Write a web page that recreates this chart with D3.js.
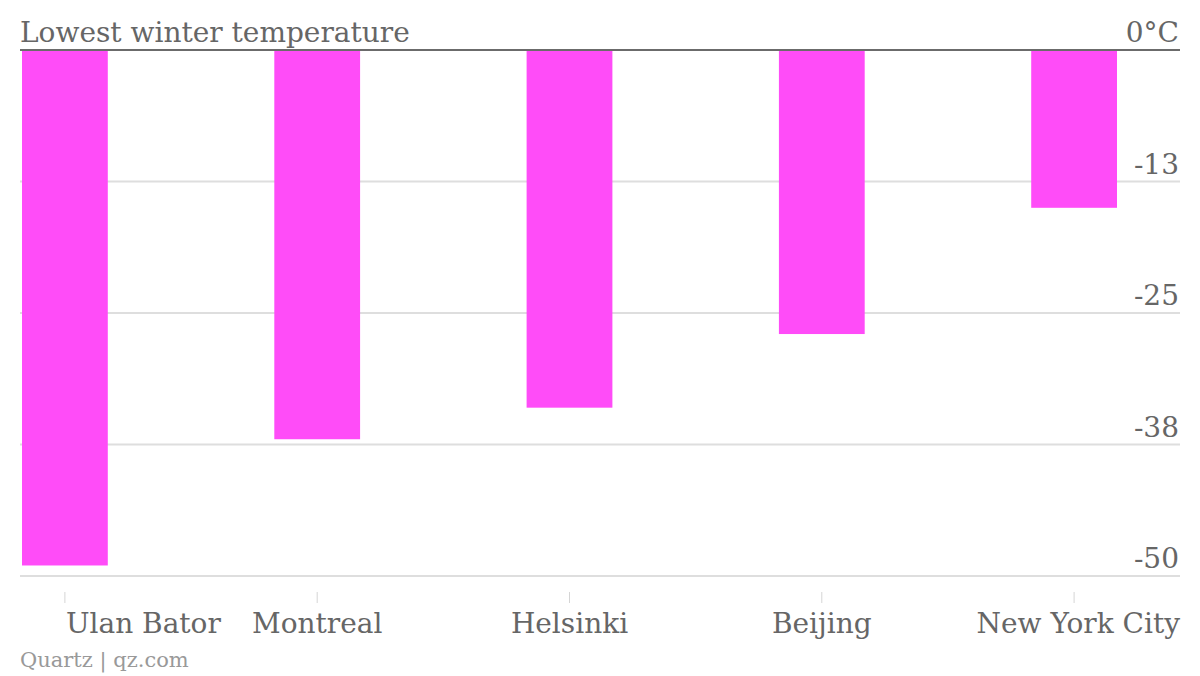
<!DOCTYPE html>
<html><head><meta charset="utf-8">
<script src="https://cdnjs.cloudflare.com/ajax/libs/d3/7.8.5/d3.min.js"></script>
<style>html,body{margin:0;padding:0;background:#fff;}</style>
</head><body>
<svg id="c" width="1200" height="676"></svg>
<script>
const categories = ["Ulan Bator", "Montreal", "Helsinki", "Beijing", "New York City"];
const values = [-49, -37, -34, -27, -15];
const tickValues = [0, -12.5, -25, -37.5, -50];
const tickLabels = ["0°C", "-13", "-25", "-38", "-50"];
const title = "Lowest winter temperature";
const source = "Quartz | qz.com";

const FONT = "'DejaVu Serif', serif";
const svg = d3.select("#c");
const left = 20, right = 1180;
const x = d3.scaleBand().domain(categories).range([22, 1117]).paddingInner(0.66).paddingOuter(0);
const y = d3.scaleLinear().domain([0, -50]).range([50, 576]);

// gridlines (non-zero)
svg.append("g").selectAll("line").data(tickValues.filter(d => d !== 0)).join("line")
  .attr("x1", left).attr("x2", right)
  .attr("y1", d => y(d)).attr("y2", d => y(d))
  .attr("stroke", "#dedede").attr("stroke-width", 2);

// bars
svg.append("g").selectAll("rect").data(categories).join("rect")
  .attr("x", d => x(d)).attr("width", x.bandwidth())
  .attr("y", y(0)).attr("height", (d, i) => y(values[i]) - y(0))
  .attr("fill", "#ff4cf8");

// zero line
svg.append("line").attr("x1", left).attr("x2", right)
  .attr("y1", y(0)).attr("y2", y(0)).attr("stroke", "#6b6b6b").attr("stroke-width", 2);

// y tick labels
svg.append("g").selectAll("text").data(tickValues).join("text")
  .attr("x", right - 1).attr("y", d => y(d) - 8)
  .attr("text-anchor", "end")
  .attr("font-family", FONT).attr("font-size", 28).attr("fill", "#666")
  .text((d, i) => tickLabels[i]);

// title
svg.append("text").attr("x", left).attr("y", 42)
  .attr("font-family", FONT).attr("font-size", 28).attr("fill", "#666")
  .text(title);

// x ticks
const cx = d => x(d) + x.bandwidth() / 2;
svg.append("g").selectAll("line").data(categories).join("line")
  .attr("x1", cx).attr("x2", cx).attr("y1", 592).attr("y2", 603)
  .attr("stroke", "#d5d5d5").attr("stroke-width", 1);

const n = categories.length;
svg.append("g").selectAll("text").data(categories).join("text")
  .attr("x", (d, i) => i === 0 ? cx(d) + 1 : i === n - 1 ? right : cx(d))
  .attr("y", 633)
  .attr("text-anchor", (d, i) => i === 0 ? "start" : i === n - 1 ? "end" : "middle")
  .attr("font-family", FONT).attr("font-size", 28).attr("fill", "#666")
  .text(d => d);

// source
svg.append("text").attr("x", left).attr("y", 667)
  .attr("font-family", FONT).attr("font-size", 21).attr("fill", "#999")
  .text(source);
</script>
</body></html>
